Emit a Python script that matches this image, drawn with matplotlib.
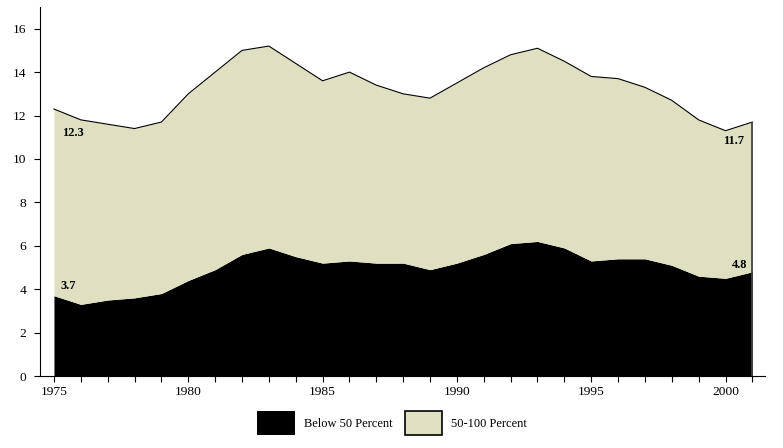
import matplotlib.pyplot as plt
import numpy as np
from matplotlib.patches import Patch

plt.rcParams["font.family"] = ["Liberation Serif", "DejaVu Serif"]

years = np.arange(1975, 2002)
below_50 = [3.7, 3.3, 3.5, 3.6, 3.8, 4.4, 4.9, 5.6, 5.9, 5.5, 5.2, 5.3, 5.2,
            5.2, 4.9, 5.2, 5.6, 6.1, 6.2, 5.9, 5.3, 5.4, 5.4, 5.1, 4.6, 4.5, 4.8]
total = [12.3, 11.8, 11.6, 11.4, 11.7, 13.0, 14.0, 15.0, 15.2, 14.4, 13.6, 14.0, 13.4,
         13.0, 12.8, 13.5, 14.2, 14.8, 15.1, 14.5, 13.8, 13.7, 13.3, 12.7, 11.8, 11.3, 11.7]
labels = ["Below 50 Percent", "50-100 Percent"]

black = "#000000"
beige = "#dfdfc1"

fig = plt.figure(figsize=(7.83, 4.48), dpi=100)
ax = fig.add_axes([40 / 783, 72 / 448, 725 / 783, 369 / 448])

# stacked areas
ax.fill_between(years, 0, below_50, color=black, lw=0)
ax.fill_between(years, below_50, total, color=beige, lw=0)
ax.plot(years, total, color="black", lw=0.8)
ax.vlines(years[-1], 0, total[-1], color="#444444", lw=1.3)

# end labels
ax.text(years[0] + 0.3, total[0] - 0.85, f"{total[0]:.1f}", fontsize=9,
        fontweight="bold", ha="left", va="top")
ax.text(years[0] + 0.25, below_50[0] + 0.15, f"{below_50[0]:.1f}", fontsize=9,
        fontweight="bold", ha="left", va="bottom")
ax.text(years[-1] - 0.3, total[-1] - 0.6, f"{total[-1]:.1f}", fontsize=9,
        fontweight="bold", ha="right", va="top")
ax.text(years[-1] - 0.2, below_50[-1] + 0.05, f"{below_50[-1]:.1f}", fontsize=9,
        fontweight="bold", ha="right", va="bottom")

ax.set_xlim(1974.48, 2001.47)
ax.set_ylim(0, 17)
ax.set_yticks(np.arange(0, 17, 2))
ax.set_xticks(years)
ax.set_xticklabels([str(y) if y % 5 == 0 else "" for y in years])
ax.tick_params(axis="both", direction="out", length=4, width=0.8,
               labelsize=9.7, colors="black")
ax.tick_params(axis="y", pad=6)
ax.tick_params(axis="x", pad=3)
for side in ["top", "right"]:
    ax.spines[side].set_visible(False)
for side in ["left", "bottom"]:
    ax.spines[side].set_linewidth(0.8)

handles = [Patch(facecolor=black, edgecolor=black, lw=0),
           Patch(facecolor=beige, edgecolor="black", lw=1.2)]
fig.legend(handles, labels, loc="center", bbox_to_anchor=(392 / 783, 1 - 423 / 448),
           ncol=2, frameon=False, fontsize=9, handlelength=3.0,
           handleheight=2.6, handletextpad=0.7, columnspacing=1.0)

fig.savefig("out.png", dpi=100)
